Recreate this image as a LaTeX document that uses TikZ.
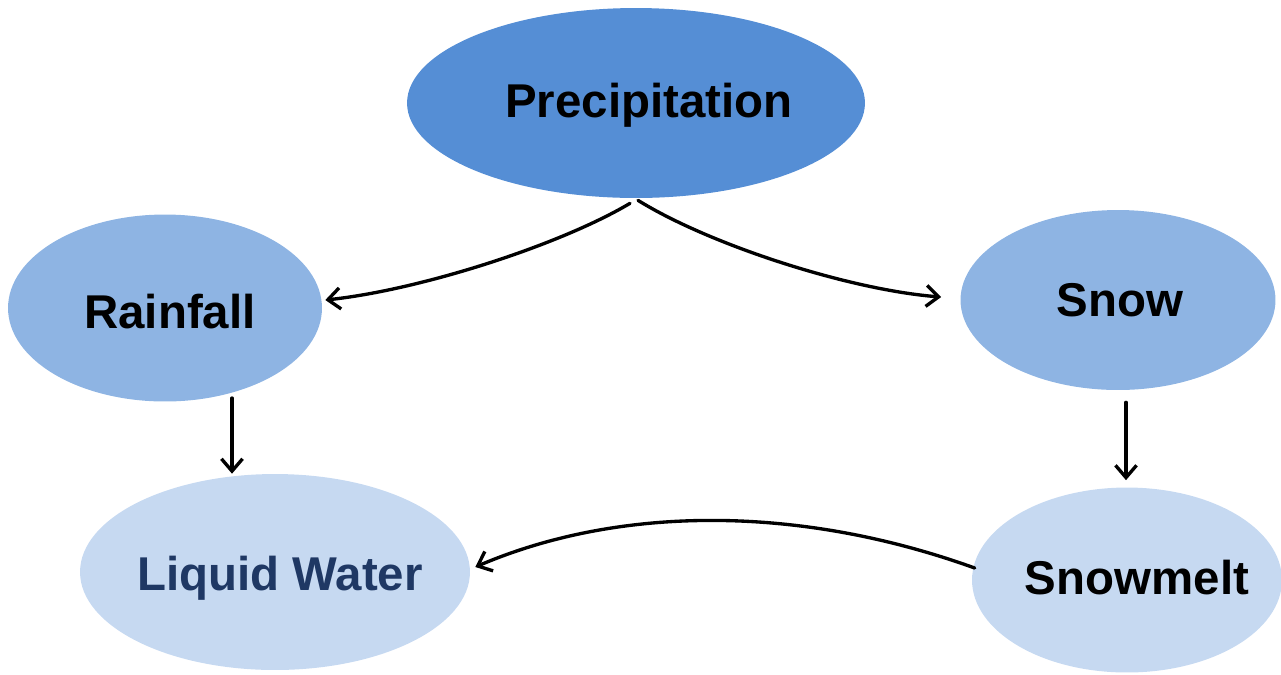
\documentclass[tikz,border=0pt]{standalone}
\usepackage{fontspec}
\setmainfont{Liberation Sans}
\usetikzlibrary{shapes.geometric,arrows.meta,calc}
\definecolor{cdark}{HTML}{558ED5}
\definecolor{cmid}{HTML}{8EB4E3}
\definecolor{clight}{HTML}{C6D9F1}
\definecolor{cnavy}{HTML}{1F3864}
\tikzset{
  blob/.style={ellipse, inner sep=0pt, draw=none},
  lab/.style={font=\fontsize{27}{32}\selectfont\bfseries, inner sep=0pt},
  arr/.style={line width=1.9pt, line cap=round, line join=round,
    -{Straight Barb[length=7pt,width=12pt,line width=1.9pt]}}
}
\begin{document}
\begin{tikzpicture}[x=0.02cm,y=-0.02cm]
\useasboundingbox (0,0) rectangle (1281,674);
\node[blob, fill=cdark, minimum width=9.16cm, minimum height=3.8cm] (prec) at (636,103) {};
\node[lab] (prect) at (649,105) {Precipitation};
\node[blob, fill=cmid, minimum width=6.28cm, minimum height=3.74cm] (rain) at (165,308) {};
\node[lab] (raint) at (170,312) {Rainfall};
\node[blob, fill=cmid, minimum width=6.3cm, minimum height=3.6cm] (snow) at (1118,300) {};
\node[lab] (snowt) at (1120,300) {Snow};
\node[blob, fill=clight, minimum width=7.8cm, minimum height=3.92cm] (lw) at (275,572) {};
\node[lab, text=cnavy] (lwt) at (280,578) {Liquid Water};
\node[blob, fill=clight, minimum width=6.2cm, minimum height=3.7cm] (melt) at (1127,580) {};
\node[lab] (meltt) at (1137,578) {Snowmelt};
% connector end points, taken from the nodes
\coordinate (a1) at ($(prec.south)+(-6,5)$);
\coordinate (a2) at ($(prec.south)+(2,2)$);
\coordinate (b1) at ($(rain.east)+(3,-8)$);
\coordinate (b2) at ($(snow.west)+(-19,-3)$);
\draw[arr] (a1) .. controls (560,245) and (420,290) .. (b1);
\draw[arr] (a2) .. controls (710,245) and (850,290) .. (b2);
\coordinate (c1) at ($(rain.center)+(67,90)$);
\draw[arr] (c1) -- (c1 |- lw.north);
\coordinate (d1) at ($(snow.south)+(8,12)$);
\draw[arr] (d1) -- ($(d1 |- melt.north)+(0,-7)$);
\coordinate (e1) at ($(melt.west)+(3,-12)$);
\coordinate (e2) at ($(lw.east)+(5,-5)$);
\draw[arr] (e1) .. controls (800,505) and (620,505) .. (e2);
\end{tikzpicture}
\end{document}
